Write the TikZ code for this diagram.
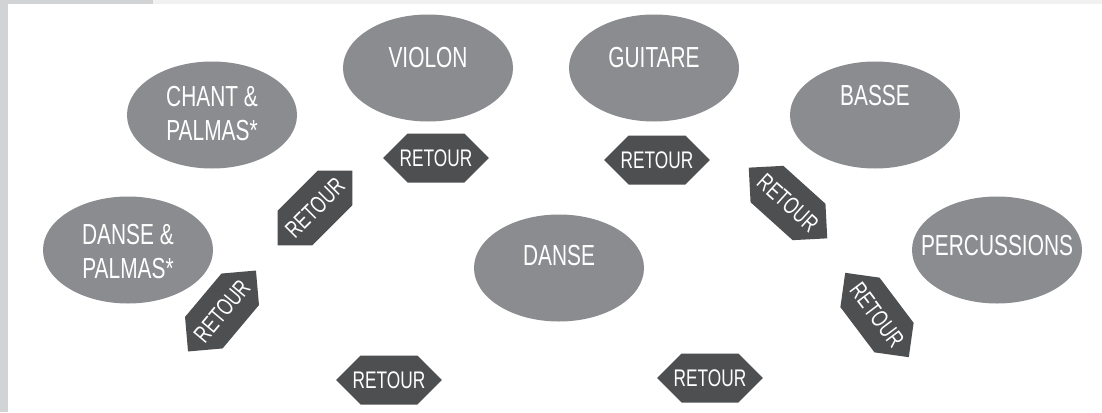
\documentclass[tikz,border=0pt]{standalone}
\usepackage{fontspec}
\setmainfont{Liberation Sans}[FakeStretch=0.72]
\usetikzlibrary{shapes.geometric,shapes.symbols}

\definecolor{zonegrey}{HTML}{8B8C8F}
\definecolor{retourgrey}{HTML}{4E4F51}
\definecolor{stripgrey}{HTML}{D1D3D4}
\definecolor{stripfaint}{HTML}{F1F1F2}

\tikzset{
  zone/.style={ellipse, fill=zonegrey, minimum width=85pt, minimum height=53.5pt, inner sep=0pt},
  zonetxt/.style={text=white, align=center, inner sep=0pt, font=\fontsize{14.5}{17}\selectfont},
  retour/.style={signal, signal to=east and west, signal pointer angle=90, fill=retourgrey,
    text=white, minimum height=24.5pt, inner ysep=0pt, inner xsep=-4pt,
    font=\fontsize{12}{12}\selectfont}
}

\begin{document}
\begin{tikzpicture}[x=0.5pt,y=0.5pt]
	% page and side strips
	\fill[white] (0,0) rectangle (1102,-412);
	\fill[stripgrey] (0,0) rectangle (8,-412);
	\fill[stripgrey] (0,0) rectangle (153,-4);
	\fill[stripfaint] (153,0) rectangle (1102,-4);
	\useasboundingbox (0,0) rectangle (1102,-412);

	% instruments
	\node[zone] (chant) at (212,-115) {};
	\node[zone] (violon) at (428,-68) {};
	\node[zone] (guitare) at (654,-68) {};
	\node[zone] (basse) at (875,-115) {};
	\node[zone] (dansepalmas) at (128,-250) {};
	\node[zone] (danse) at (559,-268) {};
	\node[zone] (percu) at (997,-250) {};

	\node[zonetxt] (chant-t) at ([yshift=0.5pt]chant.center) {CHANT \&\\PALMAS*};
	\node[zonetxt] (violon-t) at ([yshift=5pt]violon.center) {VIOLON};
	\node[zonetxt] (guitare-t) at ([yshift=5pt]guitare.center) {GUITARE};
	\node[zonetxt] (basse-t) at ([yshift=9.5pt]basse.center) {BASSE};
	\node[zonetxt] (dansepalmas-t) at ([yshift=-1pt]dansepalmas.center) {DANSE \&\\PALMAS*};
	\node[zonetxt] (danse-t) at ([yshift=6pt]danse.center) {DANSE};
	\node[zonetxt] (percu-t) at ([yshift=2pt]percu.center) {PERCUSSIONS};

	% retours
	\node[retour] (ret1) at (436,-158) {RETOUR};
	\node[retour] (ret2) at (657,-160) {RETOUR};
	\node[retour] (ret3) at (389,-380) {RETOUR};
	\node[retour] (ret4) at (710,-378) {RETOUR};
	\node[retour, rotate=45] (ret5) at (315,-208) {RETOUR};
	\node[retour, rotate=50] (ret6) at (222,-311) {RETOUR};
	\node[retour, rotate=-42] (ret7) at (788,-203) {RETOUR};
	\node[retour, rotate=-53] (ret8) at (877,-315) {RETOUR};
\end{tikzpicture}
\end{document}
